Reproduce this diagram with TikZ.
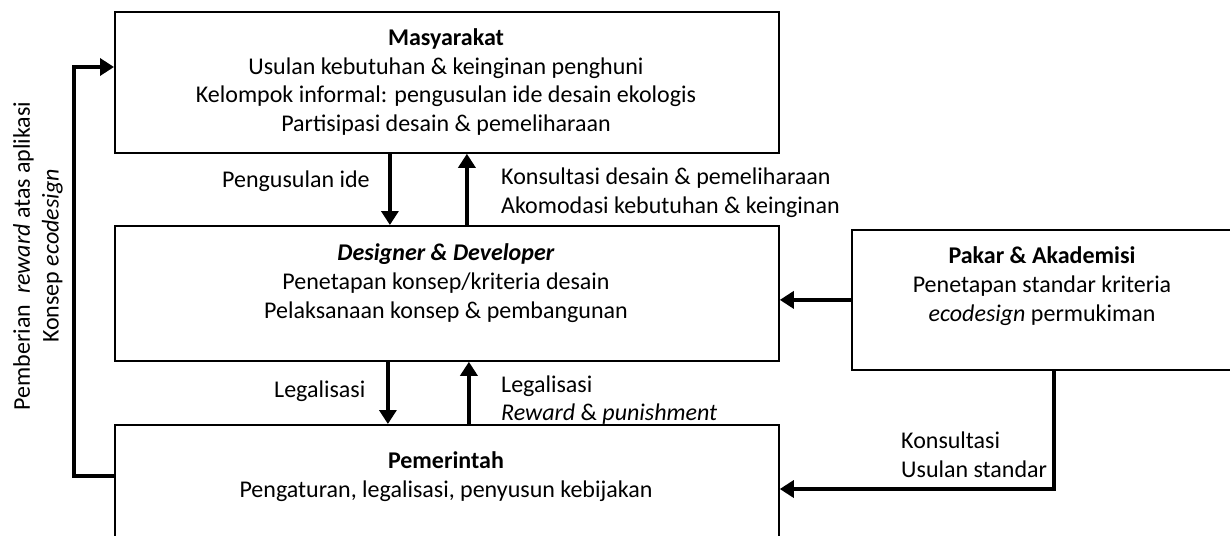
\documentclass[tikz,border=0pt]{standalone}
\usepackage{fontspec}
\setmainfont{Carlito}
\usepackage{tikz}
\usetikzlibrary{arrows.meta,positioning}

\tikzset{
  box/.style={draw=black, line width=1.8pt, minimum width=664pt, anchor=north west, inner sep=0pt},
  lbl/.style={inner sep=0pt, align=left, anchor=west},
  boxtxt/.style={inner sep=0pt, align=center},
  arr/.style={line width=3.4pt, -{Triangle[length=14pt,width=17pt]}},
}

\begin{document}
\begin{tikzpicture}[x=1pt, y=-1pt, font=\fontsize{24}{28.8}\selectfont]
  \useasboundingbox (0,0) rectangle (1230,535);
  \clip (0,0) rectangle (1230,535);
  % boxes
  \node[box, minimum height=141pt] (mas) at (114,11) {};
  \node[box, minimum height=135pt] (des) at (114,225) {};
  \node[box, minimum height=160pt] (pem) at (114,424) {};
  \node[box, minimum width=382pt, minimum height=140pt] (pak) at (851,229) {};
  % box texts
  \node[boxtxt] (masT) at (446,82) {\textbf{Masyarakat}\\Usulan kebutuhan \& keinginan penghuni\\Kelompok informal: pengusulan ide desain ekologis\\Partisipasi desain \& pemeliharaan};
  \node[boxtxt] (desT) at (446,283) {\textbf{\textit{Designer \& Developer}}\\Penetapan konsep/kriteria desain\\Pelaksanaan konsep \& pembangunan};
  \node[boxtxt] (pemT) at (446,477) {\textbf{Pemerintah}\\Pengaturan, legalisasi, penyusun kebijakan};
  \node[boxtxt] (pakT) at (1042,286) {\textbf{Pakar \& Akademisi}\\Penetapan standar kriteria\\\textit{ecodesign} permukiman};
  % vertical arrows
  \draw[arr] ([xshift=-57]mas.south) -- ([xshift=-57]des.north);
  \draw[arr] ([xshift=20]des.north) -- ([xshift=20]mas.south);
  \draw[arr] ([xshift=-59]des.south) -- ([xshift=-59]pem.north);
  \draw[arr] ([xshift=22]pem.north) -- ([xshift=22]des.south);
  % feedback loop
  \draw[arr] ([yshift=-52]pem.north west) -- ++(-40,0) |- ([yshift=-56]mas.north west);
  % pakar links
  \draw[arr] (pak.west) -- (pak.west -| des.east);
  \draw[arr] ([xshift=11]pak.south) |- ([yshift=-65]pem.north east);
  % labels
  \node[lbl] (l1) at (222,181) {Pengusulan ide};
  \node[lbl] (l2) at (501,193) {Konsultasi desain \& pemeliharaan\\Akomodasi kebutuhan \& keinginan};
  \node[lbl] (l3) at (274,391) {Legalisasi};
  \node[lbl] (l4) at (501,400) {Legalisasi\\\textit{Reward} \& \textit{punishment}};
  \node[lbl] (l5) at (901,455) {Konsultasi\\Usulan standar};
  \node[boxtxt, rotate=90] (l6) at (38,256) {Pemberian\ \ \textit{reward} atas aplikasi\\Konsep \textit{ecodesign}};
\end{tikzpicture}
\end{document}
